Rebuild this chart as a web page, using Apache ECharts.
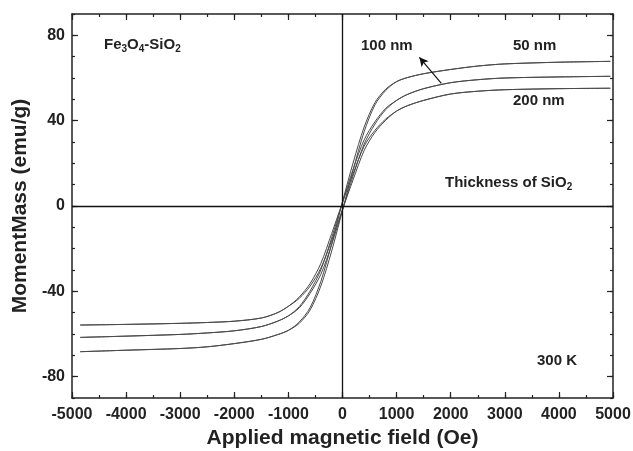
<!DOCTYPE html>
<html>
<head>
<meta charset="utf-8">
<script src="https://cdn.jsdelivr.net/npm/echarts@6/dist/echarts.min.js"></script>
<style>
  html, body { margin: 0; padding: 0; background: #fff; }
  #chart { width: 633px; height: 451px; }
</style>
</head>
<body>
<div id="chart"></div>
<script>
// applied field (Oe), same points for every loop
const fieldOe = [-4850, -4000, -3000, -2500, -2000, -1500, -1200, -1000, -800, -600, -400, -200, 0,
  200, 400, 600, 800, 1000, 1200, 1500, 2000, 2500, 3000, 4000, 4950];

// 50 nm shell
const m50Down = [-68.3, -67.6, -66.8, -66.0, -64.5, -62.5, -60.3, -58.3, -54.4, -47.7, -35.3, -17.7, 2.0,
  20.6, 37.0, 48.5, 54.8, 58.3, 60.2, 62.0, 64.0, 65.6, 66.6, 67.4, 67.8];
const m50Up = [-68.3, -67.6, -66.8, -66.0, -64.5, -62.5, -60.3, -58.3, -55.0, -48.8, -37.5, -21.1, -2.0,
  17.2, 34.8, 47.4, 54.2, 58.3, 60.2, 62.0, 64.0, 65.6, 66.6, 67.4, 67.8];

// 100 nm shell
const m100Down = [-61.6, -61.0, -60.2, -59.5, -58.5, -56.5, -54.0, -51.5, -47.2, -39.9, -29.9, -14.9, 1.8,
  17.5, 31.0, 39.5, 45.8, 49.5, 52.3, 55.0, 57.8, 59.2, 60.0, 60.5, 60.8];
const m100Up = [-61.6, -61.0, -60.2, -59.5, -58.5, -56.5, -54.0, -51.5, -47.8, -41.0, -32.0, -18.1, -1.8,
  14.4, 29.0, 38.4, 45.2, 49.5, 52.3, 55.0, 57.8, 59.2, 60.0, 60.5, 60.8];

// 200 nm shell
const m200Down = [-55.8, -55.5, -55.0, -54.6, -54.0, -52.5, -50.0, -47.0, -42.7, -36.4, -26.9, -12.9, 1.6,
  15.4, 28.0, 35.5, 40.8, 44.5, 47.0, 49.5, 52.5, 53.8, 54.5, 55.0, 55.2];
const m200Up = [-55.8, -55.5, -55.0, -54.6, -54.0, -52.5, -50.0, -47.0, -43.3, -37.6, -29.1, -16.1, -1.6,
  12.6, 26.0, 34.5, 40.2, 44.5, 47.0, 49.5, 52.5, 53.8, 54.5, 55.0, 55.2];

const yMajorTicks = [-80, -40, 0, 40, 80];

const FONT = 'Liberation Sans, Arial, sans-serif';
const INK = '#222';

// down branch from +H to -H, then back up
function loop(down, up) {
  const pts = [];
  for (let i = fieldOe.length - 1; i >= 0; i--) pts.push([fieldOe[i], down[i]]);
  for (let i = 1; i < fieldOe.length; i++) pts.push([fieldOe[i], up[i]]);
  return pts;
}

function curve(name, data) {
  return {
    name: name,
    type: 'line',
    data: data,
    showSymbol: false,
    smooth: 0.3,
    lineStyle: { color: '#4a4a4a', width: 1 },
    z: 3
  };
}

function xAx(position, interval, tickLen, showLine, extra) {
  return Object.assign({
    type: 'value',
    position: position,
    min: -5000,
    max: 5000,
    interval: interval,
    axisLine: { show: showLine, onZero: false, lineStyle: { color: INK, width: 1.5 } },
    axisTick: { inside: true, length: tickLen, lineStyle: { color: INK, width: 1.2 } },
    axisLabel: { show: false },
    splitLine: { show: false }
  }, extra || {});
}

function yAx(position, tickLen, showLine, extra) {
  return Object.assign({
    type: 'value',
    position: position,
    min: -90,
    max: 90,
    interval: 10,
    axisLine: { show: showLine, onZero: false, lineStyle: { color: INK, width: 1.5 } },
    axisTick: { inside: true, length: tickLen, lineStyle: { color: INK, width: 1.2 } },
    axisLabel: { show: false },
    splitLine: { show: false }
  }, extra || {});
}

const majorY = {
  axisTick: { inside: true, length: 6, customValues: yMajorTicks, lineStyle: { color: INK, width: 1.2 } }
};

const chart = echarts.init(document.getElementById('chart'));

chart.setOption({
  backgroundColor: '#fff',
  animation: false,
  grid: { left: 72, right: 20, top: 14, bottom: 53, containLabel: false, outerBoundsMode: 'none' },
  xAxis: [
    xAx('bottom', 500, 3, true, {
      name: 'Applied magnetic field (Oe)',
      nameLocation: 'middle',
      nameGap: 30,
      nameTextStyle: { fontFamily: FONT, fontWeight: 'bold', fontSize: 21, color: INK },
      axisLabel: {
        show: true,
        margin: 9,
        fontFamily: FONT,
        fontWeight: 'bold',
        fontSize: 16,
        color: INK,
        formatter: v => (v % 1000 === 0 ? String(v) : '')
      }
    }),
    xAx('top', 500, 3, true),
    xAx('bottom', 1000, 6, false),
    xAx('top', 1000, 6, false)
  ],
  yAxis: [
    yAx('left', 3, true, {
      name: 'MomentMass (emu/g)',
      nameLocation: 'middle',
      nameGap: 40,
      nameTextStyle: { fontFamily: FONT, fontWeight: 'bold', fontSize: 21, color: INK },
      axisLabel: {
        show: true,
        margin: 7,
        fontFamily: FONT,
        fontWeight: 'bold',
        fontSize: 16,
        color: INK,
        formatter: v => (v % 40 === 0 ? String(v) : '')
      }
    }),
    yAx('right', 3, true),
    yAx('left', 6, false, majorY),
    yAx('right', 6, false, majorY)
  ],
  series: [
    Object.assign(curve('50 nm', loop(m50Down, m50Up)), {
      markLine: {
        silent: true,
        symbol: 'none',
        label: { show: false },
        lineStyle: { color: '#111', width: 1.3, type: 'solid' },
        data: [{ xAxis: 0 }, { yAxis: 0 }]
      }
    }),
    curve('100 nm', loop(m100Down, m100Up)),
    curve('200 nm', loop(m200Down, m200Up)),
    {
      name: 'arrow',
      type: 'line',
      data: [],
      markLine: {
        silent: true,
        symbol: ['none', 'arrow'],
        symbolSize: [7, 9],
        label: { show: false },
        lineStyle: { color: '#111', width: 1.2, type: 'solid' },
        data: [[{ coord: [1827, 57.5] }, { coord: [1421, 69.7] }]]
      }
    }
  ],
  graphic: [
    {
      type: 'text', left: 104, top: 37,
      style: {
        text: 'Fe{s|3}O{s|4}-SiO{s|2}',
        fontFamily: FONT, fontWeight: 'bold', fontSize: 15, fill: INK,
        rich: { s: { fontFamily: FONT, fontWeight: 'bold', fontSize: 10, fill: INK, padding: [9, 0, 0, 0] } }
      }
    },
    { type: 'text', left: 361, top: 38, style: { text: '100 nm', fontFamily: FONT, fontWeight: 'bold', fontSize: 15, fill: INK } },
    { type: 'text', left: 513, top: 38, style: { text: '50 nm', fontFamily: FONT, fontWeight: 'bold', fontSize: 15, fill: INK } },
    { type: 'text', left: 513, top: 93, style: { text: '200 nm', fontFamily: FONT, fontWeight: 'bold', fontSize: 15, fill: INK } },
    {
      type: 'text', left: 445, top: 175,
      style: {
        text: 'Thickness of SiO{s|2}',
        fontFamily: FONT, fontWeight: 'bold', fontSize: 15, fill: INK,
        rich: { s: { fontFamily: FONT, fontWeight: 'bold', fontSize: 10, fill: INK, padding: [9, 0, 0, 0] } }
      }
    },
    { type: 'text', left: 537, top: 353, style: { text: '300 K', fontFamily: FONT, fontWeight: 'bold', fontSize: 15, fill: INK } }
  ]
});
</script>
</body>
</html>
